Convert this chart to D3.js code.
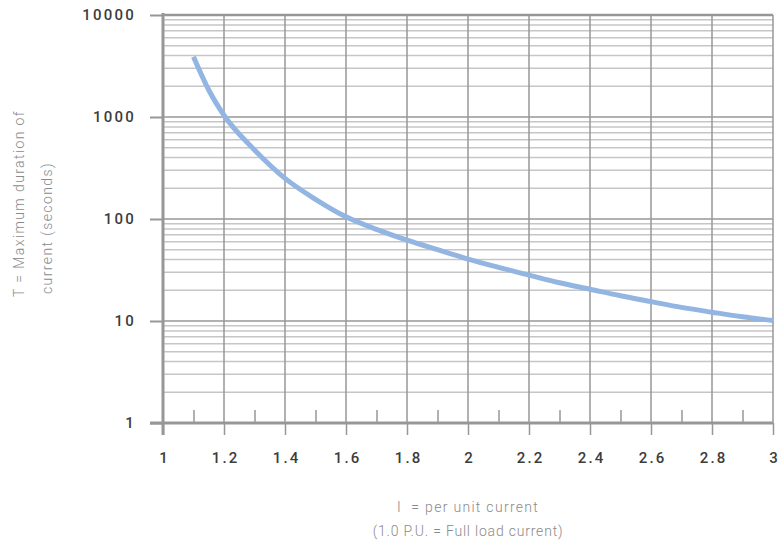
<!DOCTYPE html>
<html>
<head>
<meta charset="utf-8">
<script src="https://cdn.jsdelivr.net/npm/d3@7"></script>
<style>
  html, body { margin: 0; padding: 0; background: #fff; }
  svg { display: block; }
</style>
</head>
<body>
<svg id="chart" width="784" height="546"></svg>
<script>
// ---- data ----
const currentPU = [1.1, 1.15, 1.2, 1.3, 1.4, 1.5, 1.6, 1.7, 1.8, 1.9, 2.0, 2.1, 2.2, 2.3, 2.4, 2.5, 2.6, 2.7, 2.8, 2.9, 3.0];
const maxSeconds = [3900, 1840, 1040, 475, 250, 156, 105, 79, 62, 50, 40.5, 33.6, 28.2, 23.7, 20.5, 17.7, 15.5, 13.6, 12.2, 11.0, 10.1];
const xTickValues = [1, 1.2, 1.4, 1.6, 1.8, 2, 2.2, 2.4, 2.6, 2.8, 3];
const xMinorTicks = [1.1, 1.3, 1.5, 1.7, 1.9, 2.1, 2.3, 2.5, 2.7, 2.9];
const yTickValues = [1, 10, 100, 1000, 10000];
const xTitleLines = ["I  = per unit current", "(1.0 P.U. = Full load current)"];
const yTitleLines = ["T = Maximum duration of", "current (seconds)"];

const svg = d3.select("#chart");
const pLeft = 163, pRight = 773, pTop = 15, pBottom = 423;

const x = d3.scaleLinear().domain([1, 3]).range([pLeft, pRight]);
const y = d3.scaleLog().domain([1, 10000]).range([pBottom, pTop]);

const gridColor = "#979797";
const minorGridColor = "#c6c6c6";
const labelFont = "Roboto, sans-serif";

// horizontal minor grid lines (2..9 per decade)
const minorY = [];
for (let e = 0; e < 4; e++) for (let m = 2; m <= 9; m++) minorY.push(m * Math.pow(10, e));
svg.append("g").selectAll("line").data(minorY).join("line")
  .attr("x1", pLeft).attr("x2", pRight)
  .attr("y1", d => y(d)).attr("y2", d => y(d))
  .attr("stroke", minorGridColor).attr("stroke-width", 1.5);

// decade lines
svg.append("g").selectAll("line").data(yTickValues.slice(1)).join("line")
  .attr("x1", pLeft).attr("x2", pRight)
  .attr("y1", d => y(d)).attr("y2", d => y(d))
  .attr("stroke", gridColor).attr("stroke-width", d => d === 10000 ? 2.5 : 1.5);

// vertical grid lines
svg.append("g").selectAll("line").data(xTickValues.slice(1)).join("line")
  .attr("x1", d => x(d)).attr("x2", d => x(d))
  .attr("y1", pTop).attr("y2", pBottom)
  .attr("stroke", gridColor).attr("stroke-width", 1.5);

// minor x ticks (inside, above axis)
const minorAxis = svg.append("g")
  .attr("transform", `translate(0,${pBottom})`)
  .call(d3.axisBottom(x).tickValues(xMinorTicks).tickSize(-13).tickFormat(""));
minorAxis.select(".domain").remove();
minorAxis.selectAll(".tick line").attr("stroke", gridColor).attr("stroke-width", 1.5);

// curve
const line = d3.line()
  .x((d, i) => x(currentPU[i]))
  .y(d => y(d))
  .curve(d3.curveMonotoneX);
svg.append("path")
  .datum(maxSeconds)
  .attr("d", line)
  .attr("fill", "none")
  .attr("stroke", "#92b5e2")
  .attr("stroke-width", 5);

// x axis
const xAxis = svg.append("g")
  .attr("transform", `translate(0,${pBottom})`)
  .call(d3.axisBottom(x).tickValues(xTickValues).tickSize(12).tickPadding(17)
    .tickFormat(d => String(+d.toFixed(1))));
xAxis.select(".domain").remove();
xAxis.selectAll(".tick line").attr("stroke", gridColor).attr("stroke-width", 1.5);
xAxis.selectAll("text")
  .attr("fill", "#3c3c3c").style("font-family", labelFont)
  .style("font-size", "15px").style("font-weight", 500).style("letter-spacing", "2.2px")
  .attr("dx", "1.1px");

// y axis
const yAxis = svg.append("g")
  .attr("transform", `translate(${pLeft},0)`)
  .call(d3.axisLeft(y).tickValues(yTickValues).tickSize(13).tickPadding(15)
    .tickFormat(d3.format("d")));
yAxis.select(".domain").remove();
yAxis.selectAll(".tick line").attr("stroke", gridColor).attr("stroke-width", 2);
yAxis.selectAll("text")
  .attr("fill", "#3c3c3c").style("font-family", labelFont)
  .style("font-size", "15px").style("font-weight", 500).style("letter-spacing", "2.2px")
  .attr("dx", "1px");

// thick axis lines
svg.append("line").attr("x1", pLeft).attr("x2", pLeft).attr("y1", pTop - 2).attr("y2", pBottom + 12)
  .attr("stroke", gridColor).attr("stroke-width", 3);
svg.append("line").attr("x1", pLeft - 13).attr("x2", pRight).attr("y1", pBottom).attr("y2", pBottom)
  .attr("stroke", gridColor).attr("stroke-width", 3);

// x title
svg.append("g").selectAll("text").data(xTitleLines).join("text")
  .attr("x", (pLeft + pRight) / 2)
  .attr("y", (d, i) => 512 + i * 24)
  .attr("text-anchor", "middle")
  .attr("fill", "#8a8a8a")
  .attr("xml:space", "preserve")
  .style("white-space", "pre")
  .style("font-family", labelFont).style("font-size", "14px").style("font-weight", 300)
  .style("letter-spacing", (d, i) => i === 0 ? "1.3px" : "0.8px")
  .text(d => d);

// y title
svg.append("g").selectAll("text").data(yTitleLines).join("text")
  .attr("transform", (d, i) => `translate(${i === 0 ? 24 : 52},${i === 0 ? 297 : 294}) rotate(-90)`)
  .attr("text-anchor", "start")
  .attr("fill", "#8a8a8a")
  .style("font-family", labelFont).style("font-size", "14px").style("font-weight", 300)
  .style("letter-spacing", "1.4px")
  .text(d => d);
</script>
</body>
</html>
